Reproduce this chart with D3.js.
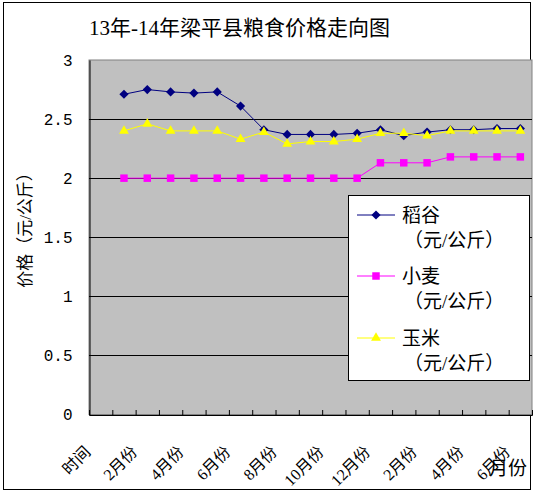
<!DOCTYPE html>
<html>
<head>
<meta charset="utf-8">
<script src="https://cdn.jsdelivr.net/npm/d3@7"></script>
<style>
  body { margin: 0; background: #fff; }
  text { font-family: "Liberation Serif", "Noto Sans CJK SC", serif; fill: #000; }
</style>
</head>
<body>
<div id="chart"></div>
<script>
var title = "13年-14年梁平县粮食价格走向图";
var categories = ["时间", "1月份", "2月份", "3月份", "4月份", "5月份", "6月份", "7月份", "8月份",
    "9月份", "10月份", "11月份", "12月份", "1月份", "2月份", "3月份", "4月份", "5月份", "6月份"];
var seriesNames = ["稻谷", "小麦", "玉米"];
var unitLabel = "（元/公斤）";
var rice = [null, 2.71, 2.75, 2.73, 2.72, 2.73, 2.61, 2.41, 2.37, 2.37, 2.37, 2.38, 2.41, 2.36, 2.39, 2.41, 2.41, 2.42, 2.42];
var wheat = [null, 2.00, 2.00, 2.00, 2.00, 2.00, 2.00, 2.00, 2.00, 2.00, 2.00, 2.00, 2.13, 2.13, 2.13, 2.18, 2.18, 2.18, 2.18];
var corn = [null, 2.40, 2.46, 2.40, 2.40, 2.40, 2.33, 2.39, 2.29, 2.31, 2.31, 2.33, 2.38, 2.38, 2.36, 2.40, 2.40, 2.40, 2.40];
var yTicks = [0, 0.5, 1, 1.5, 2, 2.5, 3];
var yTitle = "价格（元/公斤）";
var xTitle = "月份";

var width = 534, height = 492;
var plot = { left: 89, right: 532, top: 60, bottom: 414.5 };

var svg = d3.select("#chart").append("svg")
    .attr("width", width)
    .attr("height", height);

// outer frame
svg.append("rect")
    .attr("x", 3.5).attr("y", 2.5)
    .attr("width", 527).attr("height", 487)
    .attr("fill", "#fff").attr("stroke", "#000");

var x = d3.scaleLinear().domain([0, categories.length]).range([plot.left, plot.right]);
var y = d3.scaleLinear().domain([0, 3]).range([plot.bottom, plot.top]);
var cx = function(i){ return x(i + 0.5) };

svg.append("rect")
    .attr("x", plot.left).attr("y", plot.top)
    .attr("width", plot.right - plot.left).attr("height", plot.bottom - plot.top)
    .attr("fill", "#c0c0c0").attr("stroke", "#808080");

// gridlines
svg.append("g").selectAll("line")
    .data(yTicks.filter(function(d){ return d > 0 && d < 3 }))
    .enter().append("line")
    .attr("x1", plot.left).attr("x2", plot.right)
    .attr("y1", function(d){ return Math.round(y(d)) + 0.5 })
    .attr("y2", function(d){ return Math.round(y(d)) + 0.5 })
    .attr("stroke", "#000");

// y axis
var yAxis = svg.append("g")
    .attr("transform", "translate(" + (plot.left + 0.5) + ",0)")
    .call(d3.axisLeft(y).tickValues(yTicks).tickSize(0).tickPadding(17)
        .tickFormat(function(d){ return d % 1 === 0 ? d : d3.format(".1f")(d) }));
yAxis.select(".domain").attr("stroke", "#000");
yAxis.selectAll("text")
    .style("font-family", "'Liberation Mono', monospace")
    .style("font-size", "16px");

// x axis, ticks sit between categories and point up into the plot
var xAxis = svg.append("g")
    .attr("transform", "translate(0," + (plot.bottom + 0.5) + ")")
    .call(d3.axisBottom(x).tickValues(d3.range(categories.length + 1)).tickSize(-5).tickFormat(""));
xAxis.select(".domain").attr("stroke", "#000");
xAxis.selectAll(".tick line").attr("stroke", "#000");

svg.append("g").selectAll("text")
    .data(categories.map(function(c, i){ return { label: c, i: i } }).filter(function(d){ return d.i % 2 === 0 }))
    .enter().append("text")
    .attr("transform", function(d){ return "translate(" + (cx(d.i) - 9) + ",453) rotate(-45)" })
    .attr("text-anchor", "end")
    .style("font-size", "16px")
    .text(function(d){ return d.label });

svg.append("text")
    .attr("x", 489).attr("y", 475)
    .style("font-size", "19px")
    .text(xTitle);

svg.append("text")
    .attr("transform", "translate(31,226) rotate(-90)")
    .attr("text-anchor", "middle")
    .style("font-size", "17px")
    .text(yTitle);

svg.append("text")
    .attr("x", 89).attr("y", 35)
    .style("font-size", "21px")
    .text(title);

// series
var series = [
    { name: seriesNames[0], values: rice, color: "#000080", symbol: d3.symbolSquare, size: 42, rot: 45 },
    { name: seriesNames[1], values: wheat, color: "#ff00ff", symbol: d3.symbolSquare, size: 56, rot: 0 },
    { name: seriesNames[2], values: corn, color: "#ffff00", symbol: d3.symbolTriangle, size: 42, rot: 0 }
];

var line = d3.line()
    .defined(function(d){ return d != null })
    .x(function(d, i){ return cx(i) })
    .y(function(d){ return y(d) });

series.forEach(function(s){
    var g = svg.append("g");
    g.append("path")
        .attr("d", line(s.values))
        .attr("fill", "none")
        .attr("stroke", s.color)
        .attr("stroke-width", 1);
    g.selectAll("path.mark")
        .data(s.values.map(function(v, i){ return { v: v, i: i } }).filter(function(d){ return d.v != null }))
        .enter().append("path")
        .classed("mark", true)
        .attr("transform", function(d){ return "translate(" + cx(d.i) + "," + y(d.v) + ") rotate(" + s.rot + ")" })
        .attr("d", d3.symbol().type(s.symbol).size(s.size))
        .attr("fill", s.color);
});

// legend
var legend = svg.append("g");
legend.append("rect")
    .attr("x", 348.5).attr("y", 195.5)
    .attr("width", 181).attr("height", 185)
    .attr("fill", "#fff").attr("stroke", "#000");

var rowY = [215, 276, 338];
series.forEach(function(s, k){
    var ly = rowY[k];
    legend.append("line")
        .attr("x1", 357).attr("x2", 395)
        .attr("y1", ly).attr("y2", ly)
        .attr("stroke", s.color);
    legend.append("path")
        .attr("transform", "translate(376," + ly + ") rotate(" + s.rot + ")")
        .attr("d", d3.symbol().type(s.symbol).size(s.size))
        .attr("fill", s.color);
    legend.append("text")
        .attr("x", 402).attr("y", ly + 7)
        .style("font-size", "19px")
        .text(s.name);
    legend.append("text")
        .attr("x", 404).attr("y", ly + 32)
        .style("font-size", "19px")
        .text(unitLabel);
});
</script>
</body>
</html>
